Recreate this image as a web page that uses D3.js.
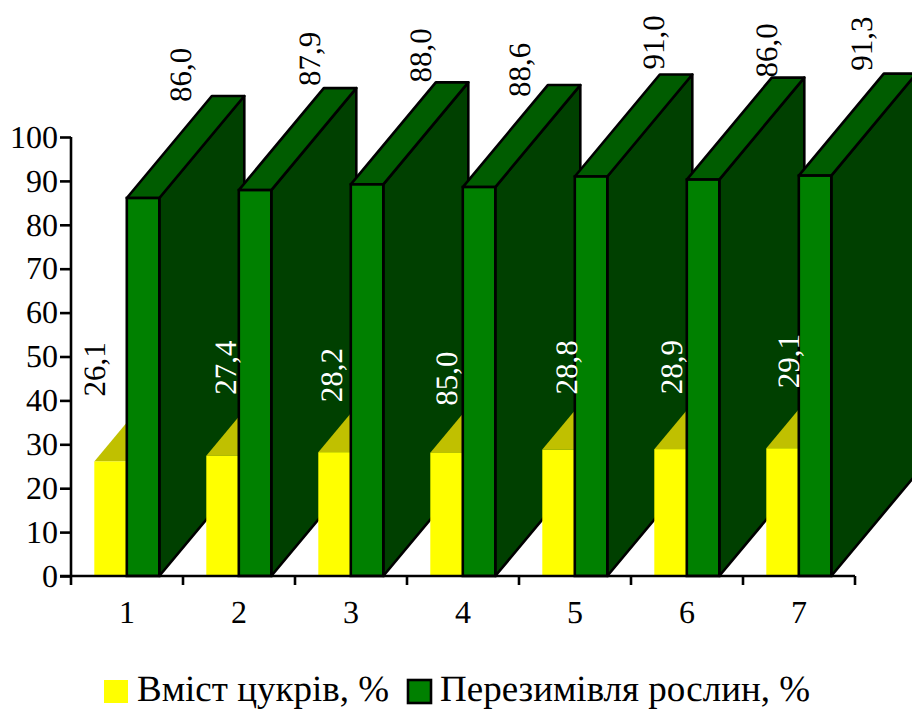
<!DOCTYPE html>
<html>
<head>
<meta charset="utf-8">
<script src="https://cdn.jsdelivr.net/npm/d3@7"></script>
<style>
  body { margin: 0; background: #fff; }
  svg { display: block; }
  text { font-family: "Liberation Serif", "Times New Roman", serif; fill: #000; text-rendering: geometricPrecision; }
  .axis text { font-family: "Liberation Serif", "Times New Roman", serif; font-size: 32px; }
</style>
</head>
<body>
<div id="chart"></div>
<script>
const categories = ["1", "2", "3", "4", "5", "6", "7"];
const sugarValues = [26.1, 27.4, 28.2, 28.1, 28.8, 28.9, 29.1];
const winterValues = [86.1, 87.9, 89.2, 88.6, 91.0, 90.3, 91.2];
// the printed labels do not always agree with the bar height in the source
const sugarLabels = ["26,1", "27,4", "28,2", "85,0", "28,8", "28,9", "29,1"];
const winterLabels = ["86,0", "87,9", "88,0", "88,6", "91,0", "86,0", "91,3"];
const yTicks = [0, 10, 20, 30, 40, 50, 60, 70, 80, 90, 100];
const seriesNames = ["Вміст цукрів, %", "Перезимівля рослин, %"];

// hand placed labels in the source, so per label nudges
const sugarNudgeX = [1, 20, 14, 17, 25, 18, 23];
const sugarNudgeY = [-65, -61, -50, -47, -55, -55, -60];
const sugarTextFill = ["#000", "#fff", "#fff", "#fff", "#fff", "#fff", "#fff"];
const winterNudgeX = [54, 71, 70, 57, 79, 80, 63];
const winterNudgeY = [-96, -104, -102, -90, -107, -102, -105];

const width = 912, height = 709;
const depthX = 85, depthY = 102;
const barW = 32.5;

const svg = d3.select("#chart").append("svg")
    .attr("width", width)
    .attr("height", height);

const x = d3.scaleBand().domain(categories).range([71, 855]);
const y = d3.scaleLinear().domain([0, 100]).range([576, 137]);

const barLeft = d => x(d) + 23.3;

function poly(pts) {
    return pts.map(p => p.join(",")).join(" ");
}

// one 3d box: top, side, then front
function drawBox(g, left, val, colors, stroke) {
    const x0 = left, x1 = left + barW;
    const yTop = y(val), yBase = y(0);
    const sw = stroke ? 2.6 : 0;
    const sc = stroke ? "#000" : "none";
    g.append("polygon")
        .attr("points", poly([[x1, yBase], [x1 + depthX, yBase - depthY], [x1 + depthX, yTop - depthY], [x1, yTop]]))
        .attr("fill", colors.side).attr("stroke", sc).attr("stroke-width", sw).attr("stroke-linejoin", "round");
    g.append("polygon")
        .attr("points", poly([[x0, yTop], [x0 + depthX, yTop - depthY], [x1 + depthX, yTop - depthY], [x1, yTop]]))
        .attr("fill", colors.top).attr("stroke", sc).attr("stroke-width", sw).attr("stroke-linejoin", "round");
    g.append("rect")
        .attr("x", x0).attr("y", yTop)
        .attr("width", barW).attr("height", yBase - yTop)
        .attr("fill", colors.front).attr("stroke", sc).attr("stroke-width", sw);
}

const yellowColors = {front: "#ffff00", top: "#c0c000", side: "#808000"};
const greenColors = {front: "#008000", top: "#005c00", side: "#004000"};

const bars = svg.append("g");
categories.forEach(function (c, i) {
    drawBox(bars, barLeft(c), sugarValues[i], yellowColors, false);
    drawBox(bars, barLeft(c) + barW, winterValues[i], greenColors, true);
});

// Y axis
const yAxis = svg.append("g")
    .attr("class", "axis")
    .attr("transform", "translate(71,0)")
    .call(d3.axisLeft(y).tickValues(yTicks).tickSize(11).tickPadding(2));
yAxis.selectAll("line, path").attr("stroke", "#000").attr("stroke-width", 2.6);
yAxis.select(".domain").attr("d", `M0,${y(100)}V${y(0)}`);

// X axis, ticks sit between the categories
const xAxis = svg.append("g")
    .attr("class", "axis")
    .attr("transform", "translate(0,576)")
    .call(d3.axisBottom(x).tickSize(0).tickPadding(24));
xAxis.select(".domain").attr("d", "M60,0H855").attr("stroke", "#000").attr("stroke-width", 2.6);
xAxis.selectAll(".tick line").remove();
xAxis.selectAll(".edge")
    .data(categories.concat("end"))
    .enter().append("line")
    .attr("class", "edge")
    .attr("x1", d => d === "end" ? x.range()[1] : x(d))
    .attr("x2", d => d === "end" ? x.range()[1] : x(d))
    .attr("y1", 0)
    .attr("y2", 9)
    .attr("stroke", "#000")
    .attr("stroke-width", 2.6);

// value labels
function rotatedLabel(px, py, txt, fill) {
    svg.append("text")
        .attr("transform", `translate(${px},${py}) rotate(-90)`)
        .attr("font-size", 31)
        .attr("dy", "0.32em")
        .style("fill", fill)
        .text(txt);
}

categories.forEach(function (c, i) {
    rotatedLabel(barLeft(c) + sugarNudgeX[i], y(sugarValues[i]) + sugarNudgeY[i], sugarLabels[i], sugarTextFill[i]);
    rotatedLabel(barLeft(c) + barW + winterNudgeX[i], y(winterValues[i]) + winterNudgeY[i], winterLabels[i], "#000");
});

// legend
svg.append("rect").attr("x", 104).attr("y", 680).attr("width", 24).attr("height", 23).attr("fill", yellowColors.front);
svg.append("text").attr("x", 137).attr("y", 700.5).attr("font-size", 37).text(seriesNames[0]);
svg.append("rect").attr("x", 408).attr("y", 680).attr("width", 23).attr("height", 23)
    .attr("fill", greenColors.front).attr("stroke", "#000").attr("stroke-width", 2.6);
svg.append("text").attr("x", 440).attr("y", 700.5).attr("font-size", 37).text(seriesNames[1]);
</script>
</body>
</html>
